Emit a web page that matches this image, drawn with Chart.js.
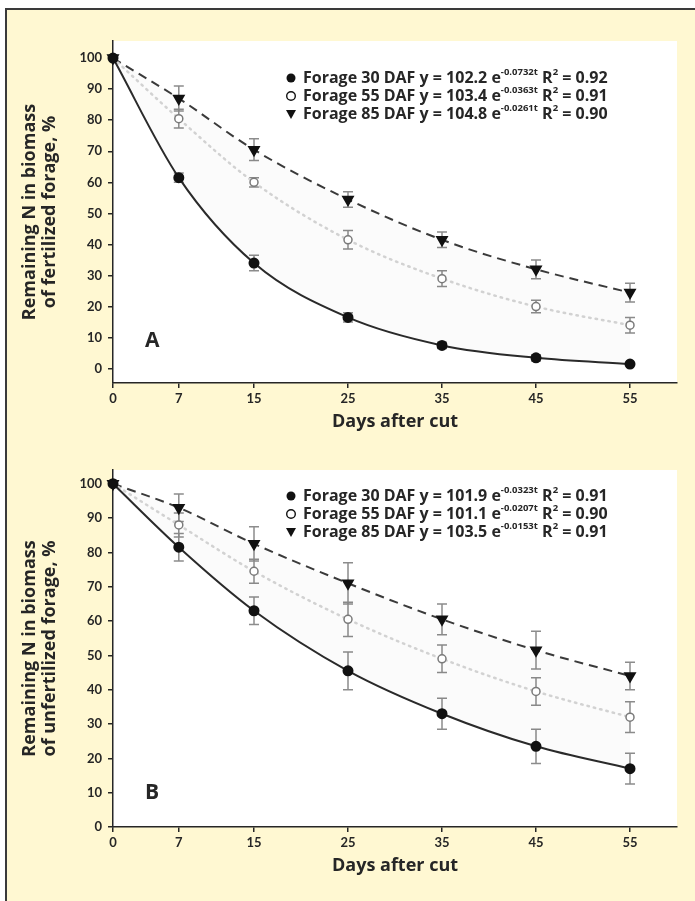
<!DOCTYPE html>
<html>
<head>
<meta charset="utf-8">
<script src="https://cdn.jsdelivr.net/npm/chart.js@4/dist/chart.umd.min.js"></script>
<style>
  html, body { margin:0; padding:0; background:#fff; }
  body { width:695px; height:901px; position:relative; overflow:hidden; font-family:Lato, sans-serif; }
  #frame { position:absolute; left:5px; top:8px; right:0; bottom:0; background:#fff8d2;
           border-top:2px solid #3a3a3a; border-left:2px solid #3a3a3a; }
  canvas { position:absolute; left:0; }
  #chartA { top:0; }
  #chartB { top:450px; }
</style>
</head>
<body>
<div id="frame"></div>
<canvas id="chartA" width="695" height="450"></canvas>
<canvas id="chartB" width="695" height="451"></canvas>
<script>
/* ---------- data ---------- */
const days = [0, 7, 15, 25, 35, 45, 55];
const xTicks = [0, 7, 15, 25, 35, 45, 55];
const yTicks = [0, 10, 20, 30, 40, 50, 60, 70, 80, 90, 100];
const seriesNames = ["Forage 30 DAF", "Forage 55 DAF", "Forage 85 DAF"];

// panel A: fertilized forage
const a30 = [100, 61.5, 34, 16.5, 7.5, 3.5, 1.5];
const a55 = [100, 80.5, 60, 41.5, 29, 20, 14];
const a85 = [100, 87, 70.5, 54.5, 41.5, 32, 24.5];
const a30Err = [0, 1.5, 2.5, 1.5, 1, 1, 0.5];
const a55Err = [0, 3, 1.5, 3, 2.5, 2, 2.5];
const a85Err = [0, 4, 3.5, 2.5, 2.5, 3, 3];
const aCoef = ["102.2", "103.4", "104.8"];
const aExp  = ["-0.0732t", "-0.0363t", "-0.0261t"];
const aR2   = ["0.92", "0.91", "0.90"];

// panel B: unfertilized forage
const b30 = [100, 81.5, 63, 45.5, 33, 23.5, 17];
const b55 = [100, 88, 74.5, 60.5, 49, 39.5, 32];
const b85 = [100, 93, 82.5, 71, 60.5, 51.5, 44];
const b30Err = [0, 4, 4, 5.5, 4.5, 5, 4.5];
const b55Err = [0, 3.5, 3.5, 5, 4, 4, 4.5];
const b85Err = [0, 4, 5, 6, 4.5, 5.5, 4];
const bCoef = ["101.9", "101.1", "103.5"];
const bExp  = ["-0.0323t", "-0.0207t", "-0.0153t"];
const bR2   = ["0.91", "0.90", "0.91"];

const INK = "#262626";
const FONT = "Lato, 'DejaVu Sans', sans-serif";
const WIDE = "'Open Sans', 'DejaVu Sans', sans-serif";

/* ---------- helpers ---------- */
function pts(vals){ return days.map((d,i)=>({x:d, y:vals[i]})); }

const plotBg = {
  id:"plotBg",
  beforeDraw(c){
    const a = c.chartArea, g = c.ctx;
    g.save(); g.fillStyle = "#ffffff";
    g.fillRect(a.left, a.top, a.right-a.left, a.bottom-a.top);
    g.restore();
  }
};

const errorBars = {
  id:"errorBars",
  beforeDatasetsDraw(c, args, opts){
    const g = c.ctx, xs = c.scales.x, ys = c.scales.y;
    g.save();
    g.strokeStyle = "#8c8c8c"; g.lineWidth = 1.5;
    opts.errs.forEach((err, si)=>{
      const vals = opts.vals[si];
      days.forEach((d,i)=>{
        if (!err[i]) return;
        const x = xs.getPixelForValue(d);
        const y1 = ys.getPixelForValue(vals[i]-err[i]);
        const y2 = ys.getPixelForValue(vals[i]+err[i]);
        g.beginPath();
        g.moveTo(x, y1); g.lineTo(x, y2);
        g.moveTo(x-5, y1); g.lineTo(x+5, y1);
        g.moveTo(x-5, y2); g.lineTo(x+5, y2);
        g.stroke();
      });
    });
    g.restore();
  }
};

function drawMarker(g, kind, x, y){
  g.save();
  g.fillStyle = "#111"; g.strokeStyle = "#111"; g.lineWidth = 1.4;
  if (kind === 0){ g.beginPath(); g.arc(x, y, 4.5, 0, Math.PI*2); g.fill(); }
  else if (kind === 1){ g.beginPath(); g.arc(x, y, 4.3, 0, Math.PI*2); g.stroke(); }
  else { g.beginPath(); g.moveTo(x-5, y-4); g.lineTo(x+5, y-4); g.lineTo(x, y+5); g.closePath(); g.fill(); }
  g.restore();
}

const fitLegend = {
  id:"fitLegend",
  afterDraw(c, args, opts){
    const g = c.ctx, a = c.chartArea;
    const big = "bold 16px " + WIDE, small = "bold 9.5px " + WIDE;
    g.save();
    g.fillStyle = INK; g.textBaseline = "middle"; g.textAlign = "left";
    seriesNames.forEach((name, i)=>{
      const y = a.top + opts.top + i*18;
      drawMarker(g, i, a.left + 178, y);
      let x = a.left + 190;
      const put = (txt, font, dy) => { g.font = font; g.fillText(txt, x, y + dy); x += g.measureText(txt).width; };
      put(name + " y = " + opts.coef[i] + " e", big, 0);
      put(opts.exp[i], small, -6);
      put(" R", big, 0);
      put("2", small, -6);
      put(" = " + opts.r2[i], big, 0);
    });
    // panel letter
    g.font = "bold 21px " + WIDE;
    g.fillText(opts.letter, a.left + 32, c.scales.y.getPixelForValue(opts.letterY));
    g.restore();
  }
};

function makeChart(id, s30, s55, s85, e30, e55, e85, yMin, yMax, pad, yTitle, leg){
  return new Chart(document.getElementById(id), {
    type:"line",
    data:{
      datasets:[
        { data:pts(s30), borderColor:"#2a2a2a", borderWidth:2, pointStyle:"circle", pointRadius:4.5,
          pointBackgroundColor:"#111", pointBorderColor:"#111", cubicInterpolationMode:"monotone", clip:false, fill:false },
        { data:pts(s55), borderColor:"#d2d2d2", borderWidth:2.5, borderDash:[1.5,5], borderCapStyle:"round",
          pointStyle:"circle", pointRadius:4, pointBackgroundColor:"#fff", pointBorderColor:"#7a7a7a",
          pointBorderWidth:1.5, cubicInterpolationMode:"monotone", clip:false, fill:false },
        { data:pts(s85), borderColor:"#3a3a3a", borderWidth:2, borderDash:[9,6], pointStyle:"triangle",
          rotation:180, pointRadius:5.5, pointBackgroundColor:"#111", pointBorderColor:"#111",
          cubicInterpolationMode:"monotone", clip:false, fill:{target:0}, backgroundColor:"rgba(0,0,0,0.014)" }
      ]
    },
    options:{
      responsive:false, devicePixelRatio:1, animation:false,
      layout:{ padding:pad },
      plugins:{
        legend:{ display:false }, tooltip:{ enabled:false },
        errorBars:{ errs:[e30, e55, e85], vals:[s30, s55, s85] },
        fitLegend:leg
      },
      scales:{
        x:{
          type:"linear", min:0, max:60,
          afterBuildTicks(s){ s.ticks = xTicks.map(v=>({value:v})); },
          afterFit(s){ s.height = 56; },
          grid:{ display:true, drawOnChartArea:false, drawTicks:true, tickLength:5, color:INK, lineWidth:1.5 },
          border:{ display:true, color:INK, width:1.5 },
          ticks:{ color:INK, font:{ family:FONT, size:13, weight:"bold" }, padding:3, maxRotation:0 },
          title:{ display:true, text:"Days after cut", color:INK, font:{ family:WIDE, size:18, weight:"bold" },
                  padding:{ top:0, bottom:6 } }
        },
        y:{
          type:"linear", min:yMin, max:yMax,
          afterBuildTicks(s){ s.ticks = yTicks.map(v=>({value:v})); },
          afterFit(s){ s.width = 113; },
          grid:{ display:true, drawOnChartArea:false, drawTicks:true, tickLength:5, color:INK, lineWidth:1.5 },
          border:{ display:true, color:INK, width:1.5 },
          ticks:{ color:INK, font:{ family:FONT, size:13, weight:"bold" }, padding:6 },
          title:{ display:true, text:yTitle, color:INK, font:{ family:WIDE, size:18, weight:"bold", lineHeight:1.12 },
                  padding:{ top:20, bottom:0 } }
        }
      }
    },
    plugins:[plotBg, errorBars, fitLegend]
  });
}

makeChart("chartA", a30, a55, a85, a30Err, a55Err, a85Err, -4.6, 105.5,
  { left:0, top:41, right:18, bottom:11 },
  ["Remaining N in biomass", "of fertilized forage, %"],
  { top:37, coef:aCoef, exp:aExp, r2:aR2, letter:"A", letterY:9 });

makeChart("chartB", b30, b55, b85, b30Err, b55Err, b85Err, 0, 104,
  { left:0, top:20, right:18, bottom:18 },
  ["Remaining N in biomass", "of unfertilized forage, %"],
  { top:26, coef:bCoef, exp:bExp, r2:bR2, letter:"B", letterY:10 });
</script>
</body>
</html>
